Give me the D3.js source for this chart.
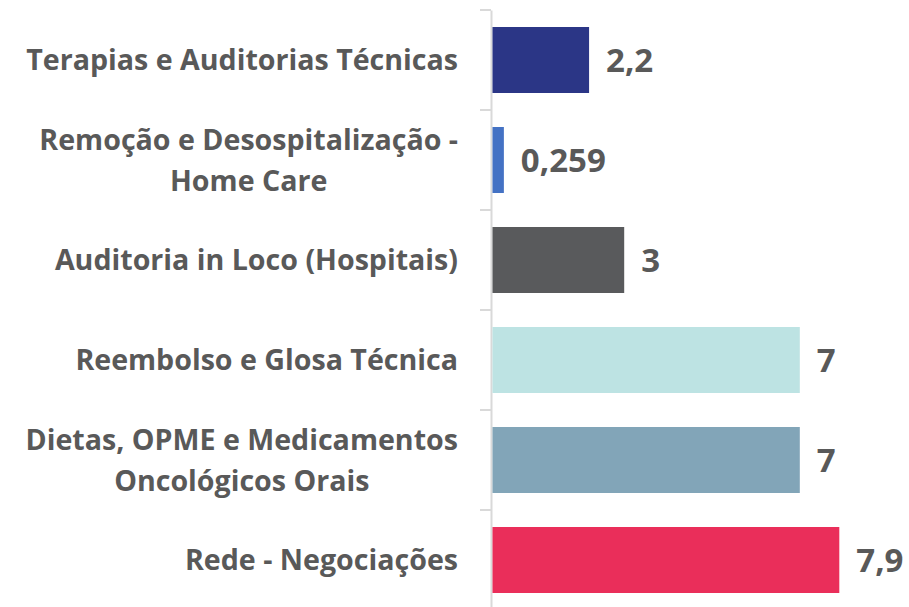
<!DOCTYPE html>
<html>
<head>
<meta charset="utf-8">
<script src="https://cdn.jsdelivr.net/npm/d3@7"></script>
<style>
  body { margin: 0; background: #fff; }
  svg { display: block; }
</style>
</head>
<body>
<svg width="909" height="607"></svg>
<script>
var categories = [
  'Terapias e Auditorias Técnicas',
  'Remoção e Desospitalização -\nHome Care',
  'Auditoria in Loco (Hospitais)',
  'Reembolso e Glosa Técnica',
  'Dietas, OPME e Medicamentos\nOncológicos Orais',
  'Rede - Negociações'
];
var values = [2.2, 0.259, 3, 7, 7, 7.9];
var colors = ['#2b3686', '#4472c4', '#595a5c', '#bde3e3', '#82a5b8', '#ea2e5a'];

var svg = d3.select('svg');
var axisX = 491;
var labelRight = 458;

var xScale = d3.scaleLinear()
  .domain([0, 8])
  .range([492.5, 492.5 + 8 * 43.9]);

var yScale = d3.scaleBand()
  .domain(categories)
  .range([10, 610])
  .paddingInner(0.34)
  .paddingOuter(0.17);

// axis line, ticks drawn between categories
var yAxis = d3.axisLeft(yScale).tickSize(0).tickFormat('');
var g = svg.append('g')
  .attr('transform', 'translate(' + axisX + ',0)')
  .call(yAxis);
g.select('.domain').attr('stroke', '#d9d9d9').attr('stroke-width', 2);

var edges = categories.map(function(c) { return yScale(c) - yScale.step() * 0.17; });
edges.push(610);
svg.append('g').selectAll('line')
  .data(edges)
  .enter()
  .append('line')
  .attr('x1', axisX - 11)
  .attr('x2', axisX)
  .attr('y1', function(d) { return d; })
  .attr('y2', function(d) { return d; })
  .attr('stroke', '#d9d9d9')
  .attr('stroke-width', 2);

svg.append('g').selectAll('rect')
  .data(values)
  .enter()
  .append('rect')
  .attr('x', xScale(0))
  .attr('y', function(d, i) { return yScale(categories[i]); })
  .attr('width', function(d) { return xScale(d) - xScale(0); })
  .attr('height', yScale.bandwidth())
  .attr('fill', function(d, i) { return colors[i]; });

// value labels
svg.append('g').selectAll('text')
  .data(values)
  .enter()
  .append('text')
  .attr('x', function(d) { return xScale(d) + 17; })
  .attr('y', function(d, i) { return yScale(categories[i]) + yScale.bandwidth() / 2; })
  .attr('dy', '0.36em')
  .attr('font-family', 'Open Sans')
  .attr('font-weight', 'bold')
  .attr('font-size', 33)
  .attr('fill', '#595959')
  .text(function(d) { return String(d).replace('.', ','); });

// category labels: lines centred on each other, block right aligned
var lineGap = 41;
categories.forEach(function(c) {
  var lines = c.split('\n');
  var cy = yScale(c) + yScale.bandwidth() / 2;
  var texts = svg.append('g').selectAll('text')
    .data(lines)
    .enter()
    .append('text')
    .attr('y', function(d, i) { return cy + (i - (lines.length - 1) / 2) * lineGap; })
    .attr('dy', '0.36em')
    .attr('text-anchor', 'middle')
    .attr('font-family', 'Open Sans')
    .attr('font-weight', 'bold')
    .attr('font-size', 28.6)
    .attr('fill', '#595959')
    .text(function(d) { return d; });
  var w = d3.max(texts.nodes(), function(n) { return n.getComputedTextLength(); });
  texts.attr('x', labelRight - w / 2);
});
</script>
</body>
</html>
